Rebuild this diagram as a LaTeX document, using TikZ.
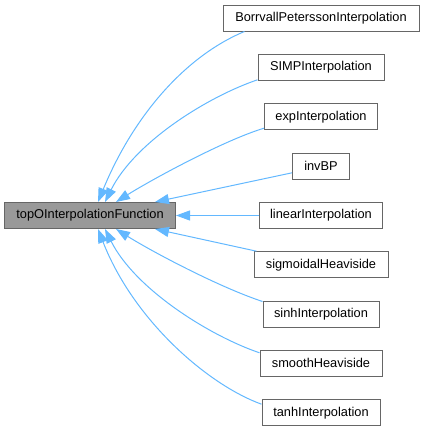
\documentclass[tikz,border=0pt]{standalone}
\usepackage{fontspec}
\setmainfont{Liberation Sans}
\usepackage{tikz}
\usetikzlibrary{arrows,arrows.meta,calc,positioning}

\definecolor{edgeblue}{HTML}{63B8FF}
\definecolor{boxgrey}{HTML}{999999}
\definecolor{boxline}{HTML}{666666}

\begin{document}
\begin{tikzpicture}[x=1pt, y=-1pt]
  \tikzstyle{cls} = [draw=boxline, fill=white, line width=1pt, inner sep=0pt,
                     minimum height=26pt, font=\fontsize{12.8}{14}\selectfont]
  \tikzstyle{base} = [cls, fill=boxgrey]
  \tikzstyle{inh} = [draw=edgeblue, line width=1pt,
                     -{Triangle[length=14pt, width=10pt, fill=edgeblue]}]

  \useasboundingbox (0,0) rectangle (424,431);

  \def\R{321};

  % base class
  \node[base, minimum width=171pt] (top) at (90, 215.5) {topOInterpolationFunction};

  % derived classes
  \node[cls, minimum width=196pt] (bp)   at (\R,  18.0) {BorrvallPeterssonInterpolation};
  \node[cls, minimum width=126pt] (simp) at (\R,  67.3) {SIMPInterpolation};
  \node[cls, minimum width=113pt] (exp)  at (\R, 116.7) {expInterpolation};
  \node[cls, minimum width=57pt]  (ibp)  at (\R, 166.3) {invBP};
  \node[cls, minimum width=123pt] (lin)  at (\R, 215.5) {linearInterpolation};
  \node[cls, minimum width=134pt] (sig)  at (\R, 264.7) {sigmoidalHeaviside};
  \node[cls, minimum width=116pt] (sinh) at (\R, 314.0) {sinhInterpolation};
  \node[cls, minimum width=122pt] (smh)  at (\R, 363.3) {smoothHeaviside};
  \node[cls, minimum width=118pt] (tanh) at (\R, 412.7) {tanhInterpolation};

  % inheritance arrows
  \draw[inh] ([xshift=22pt]bp.south west) .. controls +(-60,25) and +(35,-85) .. ([xshift=8pt]top.north);
  \draw[inh] ([yshift=1pt]simp.south west) .. controls +(-50,17) and +(30,-60) .. ([xshift=15pt]top.north);
  \draw[inh] ([yshift=2pt]exp.south west) .. controls +(-40,12) and +(35,-22) .. ([xshift=26pt]top.north);
  \draw[inh] ([yshift=7pt]ibp.south west) -- ([xshift=65pt]top.north);
  \draw[inh] (lin.west) -- (top.east);
  \draw[inh] ([xshift=3pt]sig.north west) -- ([xshift=65pt]top.south);
  \draw[inh] ([yshift=-1pt]sinh.north west) .. controls +(-45,-15) and +(35,22) .. ([xshift=26pt]top.south);
  \draw[inh] ([yshift=-3pt]smh.north west) .. controls +(-50,-17) and +(30,60) .. ([xshift=15pt]top.south);
  \draw[inh] ([yshift=-5pt]tanh.north west) .. controls +(-55,-20) and +(35,90) .. ([xshift=8pt]top.south);

\end{tikzpicture}
\end{document}
